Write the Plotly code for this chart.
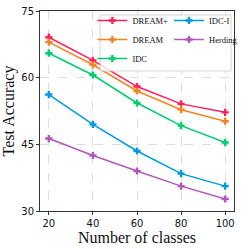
import plotly.graph_objects as go

classes = [20, 40, 60, 80, 100]
dream_plus = [69.1, 63.9, 58.0, 54.1, 52.2]
dream = [68.0, 62.9, 57.0, 52.8, 50.2]
idc = [65.5, 60.6, 54.3, 49.2, 45.4]
idc_i = [56.2, 49.5, 43.5, 38.4, 35.6]
herding = [46.3, 42.5, 39.0, 35.6, 32.7]
y_ticks = [30, 45, 60, 75]

series = [
    ("DREAM+", dream_plus, "#FF1F5B", "legend"),
    ("DREAM", dream, "#F28522", "legend"),
    ("IDC", idc, "#00CD6C", "legend"),
    ("IDC-I", idc_i, "#009ADE", "legend2"),
    ("Herding", herding, "#AF58BA", "legend2"),
]

fig = go.Figure()
for name, vals, color, lg in series:
    fig.add_trace(go.Scatter(
        x=classes, y=vals, name=name, mode="lines+markers",
        line=dict(color=color, width=1.5),
        marker=dict(symbol="cross", size=6, color=color),
        legend=lg,
    ))

axis_common = dict(
    showline=True, linecolor="#333333", linewidth=1, mirror=True,
    showgrid=True, gridcolor="#dddddd", griddash="dash", gridwidth=0.8,
    ticks="outside", ticklen=3, tickcolor="#333333",
    tickfont=dict(family="DejaVu Sans", size=10, color="#111111"),
    zeroline=False, automargin=False,
)

legend_font = dict(family="Liberation Serif", size=8.5, color="#111111")

fig.update_layout(
    width=249, height=249,
    margin=dict(l=40, r=6, t=9, b=38),
    plot_bgcolor="white", paper_bgcolor="white",
    xaxis=dict(range=[16, 104], tickvals=classes, **axis_common,
               title=dict(text="Number of classes", standoff=0,
                          font=dict(family="Liberation Serif", size=16, color="#111111"))),
    yaxis=dict(range=[30, 75], tickvals=y_ticks, **axis_common,
               title=dict(text="Test Accuracy", standoff=2,
                          font=dict(family="Liberation Serif", size=16, color="#111111"))),
    legend=dict(x=0.27, y=1.025, xanchor="left", yanchor="top",
                font=legend_font, bgcolor="rgba(255,255,255,0)",
                borderwidth=0, tracegroupgap=0),
    legend2=dict(x=0.665, y=1.025, xanchor="left", yanchor="top",
                 font=legend_font, bgcolor="rgba(255,255,255,0)",
                 borderwidth=0, tracegroupgap=0),
    shapes=[dict(type="rect", xref="paper", yref="paper",
                 x0=0.31, x1=0.985, y0=0.70, y1=0.98,
                 line=dict(color="#cccccc", width=0.8),
                 fillcolor="rgba(255,255,255,0.8)", layer="above")],
    showlegend=True,
)

fig.write_html("out.html", config={"displayModeBar": False},
               post_script="document.body.style.margin='0';")
